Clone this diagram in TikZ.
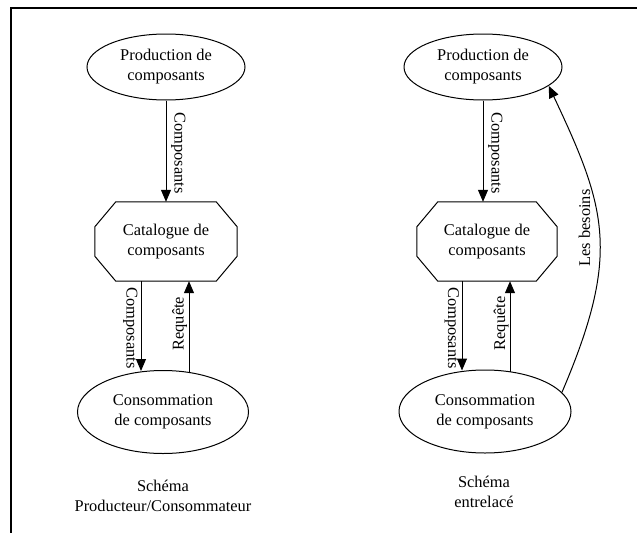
\documentclass[tikz,border=0pt]{standalone}
\usepackage{fontspec}
\setmainfont{Liberation Serif}
\usetikzlibrary{shapes.geometric,arrows.meta,calc}
\begin{document}
\begin{tikzpicture}[x=1pt,y=-1pt,
  every node/.style={font=\fontsize{16.4}{20}\selectfont, align=center, inner sep=0pt},
  ell/.style={draw, ellipse, line width=1pt},
  oct/.style={minimum height=79pt},
  octline/.style={line width=1pt},
  arr/.style={line width=1pt, -{Triangle[length=12pt,width=10pt]}},
  lab/.style={anchor=base}
]
\useasboundingbox (0,0) rectangle (637,533);
\draw[line width=2pt] (637,8) -- (11,8) -- (11,533);

% left scheme
\node[ell, minimum width=158pt, minimum height=66pt] (P1) at (166,67) {Production de\\composants};
\node[oct, minimum width=142pt] (C1) at (166,241.5) {Catalogue de\\composants};
\node[ell, minimum width=171pt, minimum height=83pt] (K1) at (163,412) {Consommation\\de composants};
\node (cap1) at (163,496) {Schéma\\Producteur/Consommateur};

% right scheme
\node[ell, minimum width=158pt, minimum height=66pt] (P2) at (483,67) {Production de\\composants};
\node[oct, minimum width=140pt] (C2) at (487,241.5) {Catalogue de\\composants};
\node[ell, minimum width=172pt, minimum height=83pt] (K2) at (485,411.5) {Consommation\\de composants};
\node (cap2) at (484,492) {Schéma\\entrelacé};

% octagons
\foreach \n in {C1,C2}{
  \draw[octline] ([xshift=21pt]\n.north west) -- ([xshift=-21pt]\n.north east)
    -- ([yshift=-25pt]\n.north east) -- ([yshift=25pt]\n.south east)
    -- ([xshift=-21pt]\n.south east) -- ([xshift=21pt]\n.south west)
    -- ([yshift=25pt]\n.south west) -- ([yshift=-25pt]\n.north west) -- cycle;
}

% left connectors
\draw[arr] (P1.south) -- (C1.north) coordinate[pos=0.5] (m1);
\draw[arr] ([xshift=-25pt]C1.south) -- ([xshift=-25pt,yshift=-1pt]C1.south |- K1.north) coordinate[pos=0.5] (m2);
\draw[arr] ([xshift=23pt,yshift=-2pt]C1.south |- K1.north) -- ([xshift=23pt]C1.south) coordinate[pos=0.5] (m3);
\node[lab, rotate=-90] (l1) at ([xshift=8.5pt,yshift=-2pt]m1) {Composants};
\node[lab, rotate=-90] (l2) at ([xshift=-14.5pt,yshift=-2pt]m2) {Composants};
\node[lab, rotate=90] (l3) at ([xshift=-5.4pt,yshift=3pt]m3) {Requête};

% right connectors
\draw[arr] (P2.south) -- (P2.south |- C2.north) coordinate[pos=0.5] (n1);
\draw[arr] ([xshift=-25pt]C2.south) -- ([xshift=-25pt,yshift=-1pt]C2.south |- K2.north) coordinate[pos=0.5] (n2);
\draw[arr] ([xshift=23pt,yshift=-2pt]C2.south |- K2.north) -- ([xshift=23pt]C2.south) coordinate[pos=0.5] (n3);
\node[lab, rotate=-90] (r1) at ([xshift=8.5pt,yshift=-2pt]n1) {Composants};
\node[lab, rotate=-90] (r2) at ([xshift=-14pt,yshift=-2pt]n2) {Composants};
\node[lab, rotate=90] (r3) at ([xshift=-5pt,yshift=3pt]n3) {Requête};

% needs curve
\draw[arr] (K2.14) .. controls +(59,-138) and +(58,123) .. (P2.-16);
\node[lab, rotate=90] (r4) at (590,228) {Les besoins};
\end{tikzpicture}
\end{document}
